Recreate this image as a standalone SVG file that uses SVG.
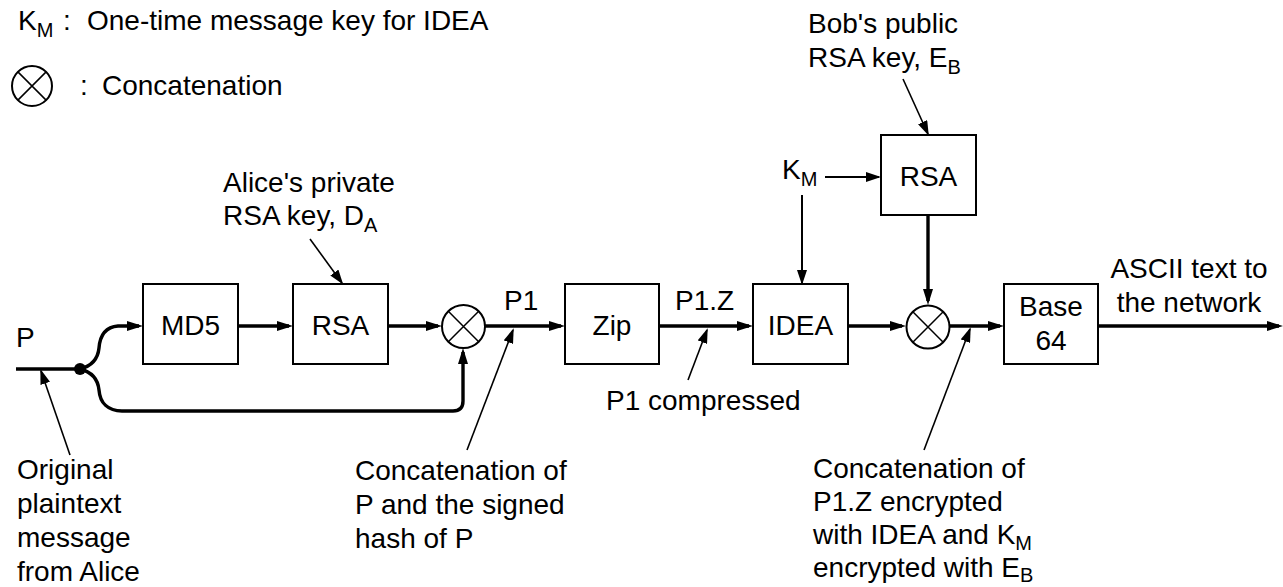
<svg xmlns="http://www.w3.org/2000/svg" width="1283" height="587" viewBox="0 0 1283 587">
<defs>
<style>
text{font-family:"Liberation Sans",Arial,Helvetica,sans-serif;font-size:28px;fill:#000}
.sub{font-size:20px}
.box{fill:#fff;stroke:#000;stroke-width:2}
.cc{fill:#fff;stroke:#000;stroke-width:2}
.x{stroke:#000;stroke-width:1.5;fill:none}
.thick{stroke:#000;stroke-width:3.4;fill:none}
.med{stroke:#000;stroke-width:2;fill:none}
.thin{stroke:#000;stroke-width:1.6;fill:none}
.mid{text-anchor:middle}
</style>
<marker id="ah" markerUnits="userSpaceOnUse" markerWidth="16" markerHeight="10" refX="12" refY="5" orient="auto">
<path d="M0,0 L16,5 L0,10 z" fill="#000"/>
</marker>
<marker id="at" markerUnits="userSpaceOnUse" markerWidth="15" markerHeight="10" refX="13" refY="5" orient="auto">
<path d="M0,0 L15,5 L0,10 z" fill="#000"/>
</marker>
</defs>

<g id="legend">
<text x="18" y="30">K<tspan class="sub" dy="7">M</tspan></text>
<text x="63" y="30">:</text>
<text x="87" y="30">One-time message key for IDEA</text>
<g id="legend-concat">
<circle class="cc" cx="32" cy="86" r="20"/>
<path class="x" d="M17.9,71.9 L46.1,100.1 M46.1,71.9 L17.9,100.1"/>
</g>
<text x="80" y="95">:</text>
<text x="102" y="95">Concatenation</text>
</g>

<g id="connectors">
<path class="thick" d="M16,369 L80,369"/>
<path class="thick" marker-end="url(#ah)" d="M80,369 C92,366 98,358 99,348 C100,335 106,327 118,326 L139,326"/>
<path class="thick" marker-end="url(#ah)" d="M80,369 C92,372 98,380 99,390 C100,403 108,411 122,411 L453,411 Q463,411 463,401 L463,352"/>
<path class="thick" marker-end="url(#ah)" d="M238,326 L289,326"/>
<path class="thick" marker-end="url(#ah)" d="M388,326 L438,326"/>
<path class="thick" marker-end="url(#ah)" d="M485,326 L561,326"/>
<path class="thick" marker-end="url(#ah)" d="M659,326 L749,326"/>
<path class="thick" marker-end="url(#ah)" d="M848,326 L902,326"/>
<path class="thick" marker-end="url(#ah)" d="M950,326 L1000,326"/>
<path class="thick" marker-end="url(#ah)" d="M1099,326 L1279,326"/>
<path class="thick" marker-end="url(#ah)" d="M928,216 L928,301"/>
<path class="med" marker-end="url(#at)" d="M825,177 L879,177"/>
<path class="med" marker-end="url(#at)" d="M802,195 L802,283"/>
<path class="thin" marker-end="url(#at)" d="M310,239 L342,283"/>
<path class="thin" marker-end="url(#at)" d="M903,79 L928,134"/>
<path class="thin" marker-end="url(#at)" d="M70,455 L41,371"/>
<path class="thin" marker-end="url(#at)" d="M467,450 L513,330"/>
<path class="thin" marker-end="url(#at)" d="M688,380 L707,330"/>
<path class="thin" marker-end="url(#at)" d="M924,450 L970,329"/>
</g>
<circle id="junction" cx="80" cy="369" r="6" fill="#000"/>

<g id="md5">
<rect class="box" x="143" y="284" width="95" height="80"/>
<text class="mid" x="190.5" y="335">MD5</text>
</g>
<g id="rsa1">
<rect class="box" x="293" y="284" width="95" height="80"/>
<text class="mid" x="340.5" y="335">RSA</text>
</g>
<g id="concat1">
<circle class="cc" cx="463.5" cy="326.5" r="21.5"/>
<path class="x" d="M448.3,311.3 L478.7,341.7 M478.7,311.3 L448.3,341.7"/>
</g>
<g id="zip">
<rect class="box" x="565" y="284" width="94" height="80"/>
<text class="mid" x="612" y="335">Zip</text>
</g>
<g id="idea">
<rect class="box" x="753" y="284" width="95" height="80"/>
<text class="mid" x="800.5" y="335">IDEA</text>
</g>
<g id="rsa2">
<rect class="box" x="881" y="135" width="95" height="80"/>
<text class="mid" x="928.5" y="186">RSA</text>
</g>
<g id="concat2">
<circle class="cc" cx="928" cy="327" r="21.5"/>
<path class="x" d="M912.8,311.8 L943.2,342.2 M943.2,311.8 L912.8,342.2"/>
</g>
<g id="base64">
<rect class="box" x="1004" y="284" width="94" height="80"/>
<text class="mid" x="1051" y="316">Base</text>
<text class="mid" x="1051" y="350">64</text>
</g>

<g id="labels">
<text x="16" y="347">P</text>
<text x="504" y="310">P1</text>
<text x="675" y="310">P1.Z</text>
<text x="606" y="410">P1 compressed</text>
<text x="782" y="179">K<tspan class="sub" dy="7">M</tspan></text>
<text x="223" y="192">Alice's private</text>
<text x="223" y="225">RSA key, D<tspan class="sub" dy="7">A</tspan></text>
<text x="808" y="33">Bob's public</text>
<text x="808" y="67">RSA key, E<tspan class="sub" dy="7">B</tspan></text>
<text class="mid" x="1189" y="278">ASCII text to</text>
<text class="mid" x="1189" y="312">the network</text>
<text x="17" y="479">Original</text>
<text x="17" y="513">plaintext</text>
<text x="17" y="547">message</text>
<text x="17" y="581">from Alice</text>
<text x="355" y="480">Concatenation of</text>
<text x="355" y="514">P and the signed</text>
<text x="355" y="548">hash of P</text>
<text x="813" y="478">Concatenation of</text>
<text x="813" y="511">P1.Z encrypted</text>
<text x="813" y="544">with IDEA and K<tspan class="sub" dy="6">M</tspan></text>
<text x="813" y="577">encrypted with E<tspan class="sub" dy="5">B</tspan></text>
</g>
</svg>
